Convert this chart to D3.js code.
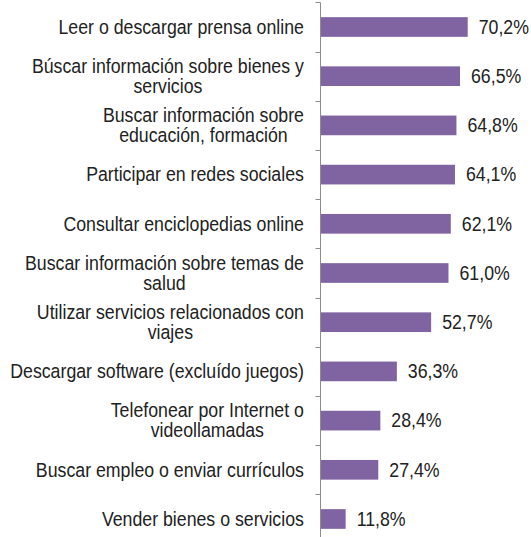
<!DOCTYPE html>
<html>
<head>
<meta charset="utf-8">
<script src="https://cdn.jsdelivr.net/npm/d3@7"></script>
<style>
  html, body { margin: 0; padding: 0; background: #fff; }
  svg { display: block; }
  text { font-family: "Liberation Sans", Arial, sans-serif; fill: #222; }
</style>
</head>
<body>
<svg id="chart" width="531" height="537"></svg>
<script>
const categories = [
  ["Leer o descargar prensa online"],
  ["Búscar información sobre bienes y", "servicios"],
  ["Buscar información sobre", "educación, formación"],
  ["Participar en redes sociales"],
  ["Consultar enciclopedias online"],
  ["Buscar información sobre temas de", "salud"],
  ["Utilizar servicios relacionados con", "viajes"],
  ["Descargar software (excluído juegos)"],
  ["Telefonear por Internet o", "videollamadas"],
  ["Buscar empleo o enviar currículos"],
  ["Vender bienes o servicios"]
];
const values = [70.2, 66.5, 64.8, 64.1, 62.1, 61.0, 52.7, 36.3, 28.4, 27.4, 11.8];
const valueLabels = ["70,2%", "66,5%", "64,8%", "64,1%", "62,1%", "61,0%", "52,7%", "36,3%", "28,4%", "27,4%", "11,8%"];

const svg = d3.select("#chart");
const axisX = 320.5;
const labelRight = 304;
const fontSize = 19.5;
const sx = 0.91;
const lineH = 20;

const ids = categories.map((c, i) => i);
const y = d3.scaleBand().domain(ids).range([2.4, 543.6]).padding(0);
const x = d3.scaleLinear().domain([0, 100]).range([321, 530]);
const barH = y.bandwidth() * 0.4;

// bars
svg.append("g").selectAll("rect").data(values).join("rect")
  .attr("x", x(0))
  .attr("y", (d, i) => y(i) + y.bandwidth() / 2 - barH / 2)
  .attr("width", d => x(d) - x(0))
  .attr("height", barH)
  .attr("fill", "#8064a2");

// axis line and ticks
const ax = svg.append("g").attr("stroke", "#8c8c8c").attr("stroke-width", 1);
ax.append("line").attr("x1", axisX).attr("x2", axisX).attr("y1", y.range()[0]).attr("y2", y.range()[1]);
const tickPos = ids.map(i => y(i)).concat([y.range()[1]]);
ax.selectAll("line.tick").data(tickPos).join("line").attr("class", "tick")
  .attr("x1", axisX - 5).attr("x2", axisX)
  .attr("y1", d => Math.round(d) + 0.5).attr("y2", d => Math.round(d) + 0.5);

// category labels
const lg = svg.append("g").attr("font-size", fontSize);
categories.forEach((lines, i) => {
  const cy = y(i) + y.bandwidth() / 2;
  const g = lg.append("g");
  const texts = lines.map((t, j) => g.append("text")
    .attr("dy", "0.35em")
    .attr("text-anchor", "middle")
    .attr("data-y", cy + (j - (lines.length - 1) / 2) * lineH)
    .text(t));
  const maxW = d3.max(texts, t => t.node().getComputedTextLength()) * sx;
  texts.forEach(t => t.attr("transform",
    `translate(${labelRight - maxW / 2},${t.attr("data-y")}) scale(${sx},1)`));
});

// value labels
svg.append("g").attr("font-size", fontSize).selectAll("text").data(values).join("text")
  .attr("transform", (d, i) => `translate(${x(d) + 11},${y(i) + y.bandwidth() / 2}) scale(${sx},1)`)
  .attr("dy", "0.35em")
  .text((d, i) => valueLabels[i]);
</script>
</body>
</html>
